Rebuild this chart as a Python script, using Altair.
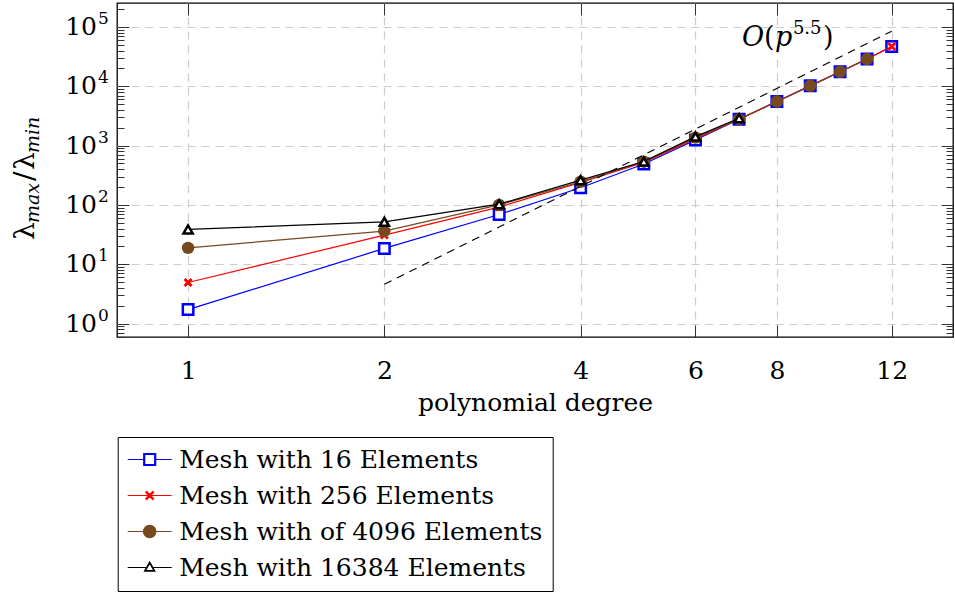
import altair as alt
import pandas as pd

FONT = "DejaVu Serif"

# ---------------- data ----------------
degrees = [1, 2, 3, 4, 5, 6, 7, 8, 9, 10, 11, 12]
series_names = [
    "Mesh with 16 Elements",
    "Mesh with 256 Elements",
    "Mesh with of 4096 Elements",
    "Mesh with 16384 Elements",
]
mesh_16 = [1.72, 18.5, 69, 195, 490, 1250, 2790, 5540, 10190, 17600, 28800, 47000]
mesh_256 = [4.93, 31, 92, 240, 520, 1300, 2800, 5540, 10190, 17600, 28800, 47000]
mesh_4096 = [18.9, 36.3, 100, 246, 537, 1365, 2790, 5540, 10190, 17600, 28800]
mesh_16384 = [38.7, 52, 103, 262, 540, 1420, 2900]

ref_degrees = [2, 12]
ref_values = [4.6, 85000]

ann_x = [7.07]
ann_y = [48000]

x_ticks = [1, 2, 4, 6, 8, 12]
y_exponents = [0, 1, 2, 3, 4, 5]
y_majors = [1, 10, 100, 1000, 10000, 100000]
y_all_ticks = [0.6, 0.7, 0.8, 0.9] + [
    m * 10 ** e for e in range(0, 6) for m in range(1, 10)
] + [200000]

colors = ["#0000ff", "#ff0000", "#76491f", "#000000"]
fills = ["white", "white", "#76491f", "white"]

# legend symbols: line + marker
legend_paths = [
    "M-2.2,0L-0.6,0M0.6,0L2.2,0M-0.6,-0.6L0.6,-0.6L0.6,0.6L-0.6,0.6ZM-0.5,-0.5L0.5,-0.5L0.5,0.5L-0.5,0.5Z",
    "M-2.2,0L2.2,0M-0.4,-0.4L0.4,0.4M-0.4,0.4L0.4,-0.4M-0.33,-0.43L0.43,0.33M-0.43,-0.33L0.33,0.43M-0.43,0.33L0.33,-0.43M-0.33,0.43L0.43,-0.33",
    "M-2.2,0L2.2,0M0.62,0A0.62,0.62,0,1,1,-0.62,0A0.62,0.62,0,1,1,0.62,0Z",
    "M-2.2,0L-0.32,0M0.32,0L2.2,0M0,-0.55L0.52,0.36L-0.52,0.36ZM0,-0.44L0.42,0.3L-0.42,0.3Z",
]

all_values = [mesh_16, mesh_256, mesh_4096, mesh_16384]
frames = []
for name, vals in zip(series_names, all_values):
    frames.append(pd.DataFrame({"degree": degrees[: len(vals)], "value": vals, "series": name}))
df_all = pd.concat(frames, ignore_index=True)

df_ref = pd.DataFrame({"degree": ref_degrees, "value": ref_values})
df_ann = pd.DataFrame({"degree": ann_x, "value": ann_y})
df_ylab = pd.DataFrame({"value": y_majors, "e": [str(e) for e in y_exponents]})
df_one = pd.DataFrame({"a": [0]})

W, H = 836, 334
FS = 25      # main text size
FS_SUP = 17  # superscript / subscript size

x_scale = alt.Scale(type="log", domain=[0.778, 14.9], nice=False)
y_scale = alt.Scale(type="log", domain=[0.594, 254000], nice=False)


def X(axis=None):
    return alt.X("degree:Q", scale=x_scale, axis=axis)


def Y(axis=None):
    return alt.Y("value:Q", scale=y_scale, axis=axis)


GRID = dict(gridColor="#cccccc", gridDash=[8, 6], gridWidth=1.2)
major_test = "abs(log(datum.value)/LN10 - round(log(datum.value)/LN10)) < 0.001"
y_tick_size = {"condition": {"test": major_test, "value": 12}, "value": 7}

ax_x_main = alt.Axis(
    values=x_ticks, labelExpr="datum.value", grid=True, ticks=False, tickSize=0,
    domain=False, labelFont=FONT, labelFontSize=FS, labelColor="black",
    labelPadding=21, labelFlush=False, labelOverlap=False, labelAngle=0,
    title="polynomial degree", titleFont=FONT, titleFontSize=FS,
    titleFontWeight="normal", titleColor="black", titleY=73,
    titleBaseline="alphabetic", **GRID,
)
ax_y_grid = alt.Axis(values=y_majors, grid=True, labels=False, ticks=False,
                     domain=False, title=None, **GRID)
ax_x_in_bottom = alt.Axis(orient="top", offset=-H, values=x_ticks, grid=False,
                          labels=False, domain=False, tickSize=12,
                          tickColor="#333333", tickWidth=1, title=None)
ax_x_in_top = alt.Axis(orient="bottom", offset=-H, values=x_ticks, grid=False,
                       labels=False, domain=False, tickSize=12,
                       tickColor="#333333", tickWidth=1, title=None)
ax_y_in_left = alt.Axis(orient="right", offset=-W, values=y_all_ticks, grid=False,
                        labels=False, domain=False, tickSize=y_tick_size,
                        tickColor="#333333", tickWidth=1, title=None)
ax_y_in_right = alt.Axis(orient="left", offset=-W, values=y_all_ticks, grid=False,
                         labels=False, domain=False, tickSize=y_tick_size,
                         tickColor="#333333", tickWidth=1, title=None)

point_marks = [
    dict(shape="square", size=110, filled=True, fill="white", stroke=colors[0], strokeWidth=2.5),
    dict(shape="M-1,-1L1,1M-1,1L1,-1", size=49, filled=False, stroke=colors[1], strokeWidth=2.8),
    dict(shape="circle", size=156, filled=True, fill=colors[2], strokeWidth=0),
    dict(shape="triangle-up", size=85, filled=True, fill="white", stroke=colors[3], strokeWidth=2.5),
]

layers = []
axis_plan = [
    ((ax_x_main, ax_y_grid), (ax_x_in_bottom, ax_y_in_left)),
    ((ax_x_in_top, ax_y_in_right), (None, None)),
    ((None, None), (None, None)),
    ((None, None), (None, None)),
]
for i, name in enumerate(series_names):
    d = df_all[df_all["series"] == name]
    (lx, ly), (px, py) = axis_plan[i]
    layers.append(
        alt.Chart(d).mark_line(color=colors[i], strokeWidth=1.2).encode(x=X(lx), y=Y(ly))
    )
    layers.append(
        alt.Chart(d).mark_point(opacity=1, **point_marks[i]).encode(x=X(px), y=Y(py))
    )

# reference slope line
layers.append(
    alt.Chart(df_ref).mark_line(color="black", strokeDash=[8, 6], strokeWidth=1.2)
    .encode(x=X(), y=Y())
)

# legend (invisible points, only the legend is shown)
leg = alt.Legend(
    orient="none", legendX=0.7, legendY=434, title=None, direction="vertical",
    strokeColor="black", fillColor="white", padding=10,
    labelFont=FONT, labelFontSize=FS, labelColor="black", labelLimit=600,
    symbolSize=400, symbolStrokeWidth=1.2, symbolOffset=9.5, labelOffset=17,
    rowPadding=10,
)
layers.append(
    alt.Chart(df_all).mark_point(filled=True, size=0, opacity=1).encode(
        x=X(), y=Y(),
        stroke=alt.Stroke("series:N", scale=alt.Scale(domain=series_names, range=colors), legend=leg),
        fill=alt.Fill("series:N", scale=alt.Scale(domain=series_names, range=fills), legend=leg),
        shape=alt.Shape("series:N", scale=alt.Scale(domain=series_names, range=legend_paths), legend=leg),
    )
)

# y tick labels 10^e
layers.append(
    alt.Chart(df_ylab).mark_text(text="10", align="right", baseline="middle",
                                 font=FONT, fontSize=FS, color="black")
    .encode(x=alt.value(-20), y=Y())
)
layers.append(
    alt.Chart(df_ylab).mark_text(align="left", baseline="middle", dy=-8,
                                 font=FONT, fontSize=FS_SUP, color="black")
    .encode(x=alt.value(-19), y=Y(), text="e:N")
)

# y axis title  lambda_max / lambda_min (rotated)
title_pieces = [
    ("λ", 28, "normal", 0, 0),
    ("max", 19, "italic", 17, 5),
    ("/", 28, "normal", 59, 0),
    ("λ", 28, "normal", 70, 0),
    ("min", 19, "italic", 87, 5),
]
for txt, fs, style, dx, dy in title_pieces:
    layers.append(
        alt.Chart(df_one).mark_text(text=txt, angle=270, align="left", baseline="alphabetic",
                                    font=FONT, fontSize=fs, fontStyle=style, color="black",
                                    dx=dx, dy=dy)
        .encode(x=alt.value(-83), y=alt.value(237))
    )

# O(p^5.5) annotation
ann_pieces = [
    ("O", 27, "italic", 0, 0),
    ("(", 27, "normal", 22, 0),
    ("p", 27, "italic", 33, 0),
    ("5.5", 18, "normal", 51, -12),
    (")", 27, "normal", 81, 0),
]
for txt, fs, style, dx, dy in ann_pieces:
    layers.append(
        alt.Chart(df_ann).mark_text(text=txt, align="left", baseline="alphabetic",
                                    font=FONT, fontSize=fs, fontStyle=style, color="black",
                                    dx=dx, dy=dy)
        .encode(x=X(), y=Y())
    )

chart = (
    alt.layer(*layers)
    .resolve_axis(x="independent", y="independent")
    .properties(
        width=W, height=H,
        autosize=alt.AutoSizeParams(type="none"),
        padding={"left": 117, "top": 3, "right": 2, "bottom": 255},
    )
    .configure_view(stroke="black", strokeWidth=1.3)
)

chart.save("out.html", embed_options={"renderer": "svg", "actions": False})
